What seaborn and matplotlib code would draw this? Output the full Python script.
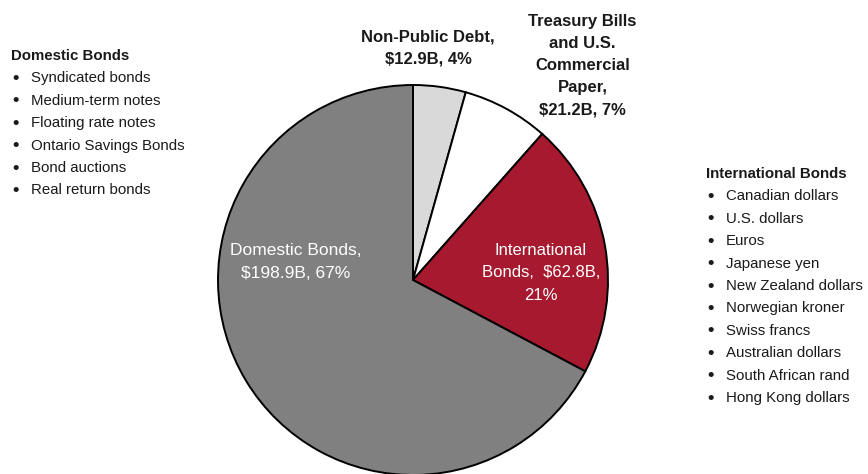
import matplotlib
matplotlib.use("Agg")
import matplotlib.pyplot as plt
import seaborn as sns

sns.set_theme(style="white")
plt.rcParams["font.family"] = ["Liberation Sans", "DejaVu Sans"]

# Debt portfolio composition (billions of dollars), clockwise from the top
segments = ["Non-Public Debt", "Treasury Bills and U.S. Commercial Paper",
            "International Bonds", "Domestic Bonds"]
values = [12.9, 21.2, 62.8, 198.9]
percents = [4, 7, 21, 67]
colors = ["#D9D9D9", "#FFFFFF", "#A6192E", "#808080"]

slice_labels = [
    "Non-Public Debt,\n$12.9B, 4%",
    "Treasury Bills\nand U.S.\nCommercial\nPaper,\n$21.2B, 7%",
    "International\nBonds,  $62.8B,\n21%",
    "Domestic Bonds,\n$198.9B, 67%",
]
label_colors = ["#1A1A1A", "#1A1A1A", "white", "white"]

domestic_title = "Domestic Bonds"
domestic_items = ["Syndicated bonds", "Medium-term notes", "Floating rate notes",
                  "Ontario Savings Bonds", "Bond auctions", "Real return bonds"]
intl_title = "International Bonds"
intl_items = ["Canadian dollars", "U.S. dollars", "Euros", "Japanese yen",
              "New Zealand dollars", "Norwegian kroner", "Swiss francs",
              "Australian dollars", "South African rand", "Hong Kong dollars"]

W, H = 868, 474
fig = plt.figure(figsize=(W / 100, H / 100), dpi=100)
cx, cy, r = 413, 280, 195
ax = fig.add_axes([(cx - r) / W, (H - cy - r) / H, 2 * r / W, 2 * r / H])

ax.pie(values, colors=colors, startangle=90, counterclock=False, radius=1,
       wedgeprops=dict(edgecolor="black", linewidth=1.4))
ax.set_xlim(-1, 1)
ax.set_ylim(-1, 1)
ax.set_aspect("equal")
ax.axis("off")

# Slice label positions in pie units
label_pos = [(0.077, 1.19), (0.87, 1.10), (0.656, 0.036), (-0.60, 0.092)]
label_sizes = [12, 12, 12, 12.5]
for txt, (x, y), c, fs in zip(slice_labels, label_pos, label_colors, label_sizes):
    ax.text(x, y, txt, ha="center", va="center", fontsize=fs, color=c,
            fontweight="bold" if c != "white" else "normal",
            linespacing=1.6, clip_on=False)


def fig_text(x, y, s, **kw):
    kw.setdefault("fontsize", 10.8)
    fig.text(x / W, 1 - y / H, s, va="center", color="#1A1A1A", **kw)


def bullet_list(x, y0, title, items, step=22.4):
    fig_text(x, y0, title, fontweight="bold")
    for i, item in enumerate(items, start=1):
        y = y0 + i * step
        fig_text(x + 1, y, "\u2022", fontsize=13, fontweight="bold")
        fig_text(x + 20, y, item)


bullet_list(11, 56, domestic_title, domestic_items)
bullet_list(706, 174, intl_title, intl_items)

fig.savefig("out.png", dpi=100, facecolor="white")
